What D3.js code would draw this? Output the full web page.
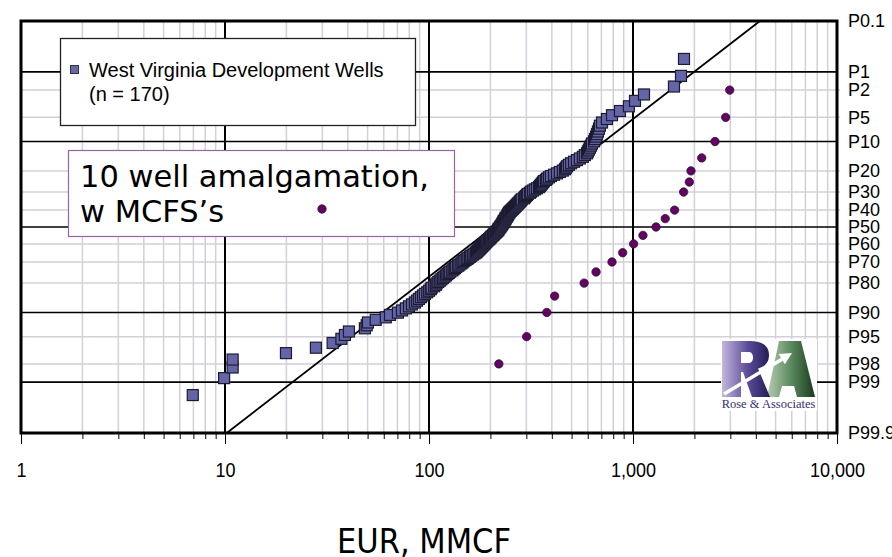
<!DOCTYPE html>
<html><head><meta charset="utf-8">
<script src="https://cdn.jsdelivr.net/npm/d3@7"></script>
<style>
html,body{margin:0;padding:0;background:#fff;}
svg{display:block;}
</style></head>
<body>
<svg id="chart" width="892" height="557"></svg>
<script>
// ---------------- DATA ----------------
// X axis (log) tick labels
const xMajorTicks = [1, 10, 100, 1000, 10000];
// Probability (exceedance) axis labels
const probLabels = ["P0.1","P1","P2","P5","P10","P20","P30","P40","P50","P60","P70","P80","P90","P95","P98","P99","P99.9"];
const probValues = [0.1, 1, 2, 5, 10, 20, 30, 40, 50, 60, 70, 80, 90, 95, 98, 99, 99.9];
const probMajor = [1, 10, 50, 90, 99];
// West Virginia Development Wells, EUR (MMCF), sorted largest first (n = 170)
const wvEUR = [
 1778,1719,1588,1132,1023,955,863,789,745,705,
 688,681,673,666,659,651,644,629,622,615,
 608,601,595,581,568,549,531,514,497,485,
 475,469,464,453,438,424,410,396,387,379,
 374,366,362,358,354,350,346,338,330,323,
 316,312,305,302,298,295,292,285,282,279,
 276,273,270,267,264,261,258,255,252,249,
 247,245,244,242,241,238,237,236,233,232,
 231,229,228,226,224,223,220,219,218,215,
 213,210,208,206,203,201,199,197,194,192,
 190,188,186,184,182,180,178,176,174,172,
 170,167,164,161,159,156,154,151,148,146,
 144,141,139,136,134,132,130,127,125,123,
 121,119,117,115,113,111,109,108,106,103,
 102,100,98,95.5,93.4,91.3,89.2,87.3,85.3,82.5,
 79.8,77,73.7,70.4,64.4,61.4,54.8,50.2,49.5,48.5,
 40.5,38.7,37.2,33.7,27.9,19.9,10.9,10.9,9.9,6.95];
// 10 well amalgamation, w MCFS's
const amalgPct = [2,5,10,15,20,25,30,40,45,50,55,60,65,70,75,80,85,90,95,98];
const amalgEUR = [2979,2846,2523,2172,1924,1888,1771,1600,1439,1297,1119,1007,890,789,659,576,413,378,301,220];
// Lognormal reference line (exceedance %, EUR)
const linePct = [99.9, 0.1];
const lineEUR = [10.2, 4190];

// ---------------- HELPERS ----------------
function qnorm(p){
  const a=[-3.969683028665376e+01,2.209460984245205e+02,-2.759285104469687e+02,1.383577518672690e+02,-3.066479806614716e+01,2.506628277459239e+00];
  const b=[-5.447609879822406e+01,1.615858368580409e+02,-1.556989798598866e+02,6.680131188771972e+01,-1.328068155288572e+01];
  const c=[-7.784894002430293e-03,-3.223964580411365e-01,-2.400758277161838e+00,-2.549732539343734e+00,4.374664141464968e+00,2.938163982698783e+00];
  const d=[7.784695709041462e-03,3.224671290700398e-01,2.445134137142996e+00,3.754408661907416e+00];
  const pl=0.02425, ph=1-pl; let q,r;
  if(p<pl){q=Math.sqrt(-2*Math.log(p));return (((((c[0]*q+c[1])*q+c[2])*q+c[3])*q+c[4])*q+c[5])/((((d[0]*q+d[1])*q+d[2])*q+d[3])*q+1);}
  if(p<=ph){q=p-0.5;r=q*q;return (((((a[0]*r+a[1])*r+a[2])*r+a[3])*r+a[4])*r+a[5])*q/(((((b[0]*r+b[1])*r+b[2])*r+b[3])*r+b[4])*r+1);}
  q=Math.sqrt(-2*Math.log(1-p));return -(((((c[0]*q+c[1])*q+c[2])*q+c[3])*q+c[4])*q+c[5])/((((d[0]*q+d[1])*q+d[2])*q+d[3])*q+1);
}
const zOf = pct => qnorm(1 - pct/100);   // exceedance percentile -> z

// ---------------- SCALES ----------------
const L = 21, R = 837, T = 21, B = 433;
const x = d3.scaleLog().domain([1, 10000]).range([L, R]);
const y = d3.scaleLinear().domain([zOf(99.9), zOf(0.1)]).range([B, T]);

const svg = d3.select("#chart");
svg.append("rect").attr("width",892).attr("height",557).attr("fill","#fff");

// ---------------- GRID ----------------
const grid = svg.append("g");
const allX = x.ticks(40).filter(v => v > 1 && v < 10000);
const minorX = allX.filter(v => !xMajorTicks.includes(v));
grid.selectAll(".vminor").data(minorX).enter().append("line")
  .attr("x1", d => x(d)).attr("x2", d => x(d)).attr("y1", T).attr("y2", B)
  .attr("stroke", "#d4cfd8").attr("stroke-width", 1.5);
const minorP = probValues.filter(p => !probMajor.includes(p) && p !== 0.1 && p !== 99.9);
grid.selectAll(".hminor").data(minorP).enter().append("line")
  .attr("x1", L).attr("x2", R + 3).attr("y1", d => y(zOf(d))).attr("y2", d => y(zOf(d)))
  .attr("stroke", "#d4cfd8").attr("stroke-width", 1.5);
grid.selectAll(".vmajor").data([10,100,1000]).enter().append("line")
  .attr("x1", d => x(d)).attr("x2", d => x(d)).attr("y1", T).attr("y2", B)
  .attr("stroke", "#000").attr("stroke-width", 2);
grid.selectAll(".hmajor").data(probMajor).enter().append("line")
  .attr("x1", L).attr("x2", R).attr("y1", d => y(zOf(d))).attr("y2", d => y(zOf(d)))
  .attr("stroke", "#000").attr("stroke-width", 1.6);

// ---------------- LOGO (white backing) ----------------
const logo = svg.append("g").attr("transform","translate(722,341)");
const defs = svg.append("defs");
const gR = defs.append("linearGradient").attr("id","gR").attr("x1","0").attr("x2","1").attr("y1","0").attr("y2","0");
gR.append("stop").attr("offset","0").attr("stop-color","#c4b6de");
gR.append("stop").attr("offset","0.55").attr("stop-color","#5a4a96");
gR.append("stop").attr("offset","1").attr("stop-color","#221a55");
const gA = defs.append("linearGradient").attr("id","gA").attr("x1","0").attr("x2","1").attr("y1","0").attr("y2","0");
gA.append("stop").attr("offset","0").attr("stop-color","#b7ccb2");
gA.append("stop").attr("offset","0.5").attr("stop-color","#5b8a5e");
gA.append("stop").attr("offset","1").attr("stop-color","#173a1e");
logo.append("rect").attr("x",-1).attr("y",-2).attr("width",96).attr("height",72).attr("fill","#fff");
logo.append("path").attr("fill","url(#gA)")
  .attr("d","M45,56 L57,0 L79,0 L93,56 L75,56 L72,45 L60,45 L57,56 Z");
logo.append("path").attr("fill","url(#gR)").attr("fill-rule","evenodd")
  .attr("d","M0,0 H28 C42,0 47,6 47,14 C47,21 43,26 36,27.5 L48,56 H30 L21,31 H19 V56 H0 Z M19,11 V22 H26 C29.5,22 31,20 31,16.5 C31,13 29.5,11 26,11 Z");
logo.append("line").attr("x1",2).attr("y1",53).attr("x2",60).attr("y2",18.2)
  .attr("stroke","#fff").attr("stroke-width",3.5);
logo.append("path").attr("fill","#fff").attr("d","M70,12 L62.8,23.3 L56.6,13.1 Z");
logo.append("text").attr("x",46.5).attr("y",66.5).attr("text-anchor","middle")
  .attr("font-family","'Liberation Serif','Times New Roman',serif").attr("font-size",12.5)
  .attr("fill","#3a2d70").text("Rose & Associates");

// ---------------- BORDER ----------------
svg.append("rect").attr("x",L).attr("y",T).attr("width",R-L).attr("height",B-T)
  .attr("fill","none").attr("stroke","#000").attr("stroke-width",3);

// ---------------- X AXIS ----------------
const xAxisMinor = d3.axisBottom(x).tickValues(minorX).tickSize(5).tickFormat("");
const gxm = svg.append("g").attr("transform",`translate(0,${B+1})`).call(xAxisMinor);
gxm.select(".domain").remove();
gxm.selectAll("line").attr("stroke","#000").attr("stroke-width",1);
const xAxisMajor = d3.axisBottom(x).tickValues(xMajorTicks).tickSize(10).tickFormat(d3.format(","));
const gx = svg.append("g").attr("transform",`translate(0,${B+1})`).call(xAxisMajor);
gx.select(".domain").remove();
gx.selectAll("line").attr("stroke","#000").attr("stroke-width",1);
gx.selectAll("text").attr("y", 0).attr("dy", 0)
  .attr("transform", "translate(0,43) scale(0.86,1)")
  .attr("font-family","'Liberation Sans',Arial,sans-serif").attr("font-size",21).attr("fill","#000");

svg.append("text").attr("x",424).attr("y",553).attr("text-anchor","middle")
  .attr("font-family","'DejaVu Sans Condensed','DejaVu Sans',sans-serif").style("font-stretch","condensed")
  .attr("font-size",34).attr("fill","#000").text("EUR, MMCF");

// ---------------- RIGHT (PROBABILITY) AXIS ----------------
const yAxis = d3.axisRight(y).tickValues(probValues.map(zOf)).tickSize(0).tickPadding(11)
  .tickFormat((d,i) => probLabels[i]);
const gy = svg.append("g").attr("transform",`translate(${R},0)`).call(yAxis);
gy.select(".domain").remove();
gy.selectAll("text").attr("font-family","'Liberation Sans',Arial,sans-serif").attr("font-size",18).attr("fill","#000");

// ---------------- LEGEND BOXES ----------------
svg.append("rect").attr("x",60.5).attr("y",38.5).attr("width",355).attr("height",87)
  .attr("fill","#fff").attr("stroke","#222").attr("stroke-width",1.3);
svg.append("rect").attr("x",70.5).attr("y",65.5).attr("width",8).attr("height",8)
  .attr("fill","#6666aa").attr("stroke","#333").attr("stroke-width",1);
svg.append("text").attr("x",89).attr("y",77).attr("font-family","'Liberation Sans',Arial,sans-serif")
  .attr("font-size",20).attr("fill","#000").text("West Virginia Development Wells");
svg.append("text").attr("x",89).attr("y",101).attr("font-family","'Liberation Sans',Arial,sans-serif")
  .attr("font-size",20).attr("fill","#000").text("(n = 170)");

svg.append("rect").attr("x",68.5).attr("y",150.5).attr("width",386).attr("height",86)
  .attr("fill","#fff").attr("stroke","#9a62a4").attr("stroke-width",1.2);
svg.append("text").attr("x",80).attr("y",187).attr("font-family","'DejaVu Sans',Verdana,sans-serif")
  .attr("font-size",30.5).attr("fill","#000").text("10 well amalgamation,");
svg.append("text").attr("x",80).attr("y",222).attr("font-family","'DejaVu Sans',Verdana,sans-serif")
  .attr("font-size",30.5).attr("fill","#000").text("w MCFS\u2019s");
svg.append("circle").attr("cx",322).attr("cy",209).attr("r",4.2)
  .attr("fill","#660066").attr("stroke","#222").attr("stroke-width",0.8);

// ---------------- REFERENCE LINE ----------------
const lineData = linePct.map((p,i) => ({p, v: lineEUR[i]}));
svg.append("path").datum(lineData)
  .attr("d", d3.line().x(d => x(d.v)).y(d => y(zOf(d.p))))
  .attr("fill","none").attr("stroke","#000").attr("stroke-width",1.8);

// ---------------- WV WELLS (squares) ----------------
const n = wvEUR.length;
const wv = wvEUR.map((v,i) => ({v, p: 100*(i+1)/(n+1)}));   // Weibull plotting position (rank / (n+1))
const sq = 11;
svg.append("g").selectAll("rect").data(wv.slice().reverse()).enter().append("rect")
  .attr("x", d => x(d.v) - sq/2).attr("y", d => y(zOf(d.p)) - sq/2)
  .attr("width", sq).attr("height", sq)
  .attr("fill","#6464a8").attr("stroke","#1c1c30").attr("stroke-width",1.2);

// ---------------- AMALGAMATION (dots) ----------------
const am = amalgPct.map((p,i) => ({p, v: amalgEUR[i]}));
svg.append("g").selectAll("circle").data(am).enter().append("circle")
  .attr("cx", d => x(d.v)).attr("cy", d => y(zOf(d.p))).attr("r",4.2)
  .attr("fill","#660066").attr("stroke","#222").attr("stroke-width",0.8);
</script>
</body></html>
